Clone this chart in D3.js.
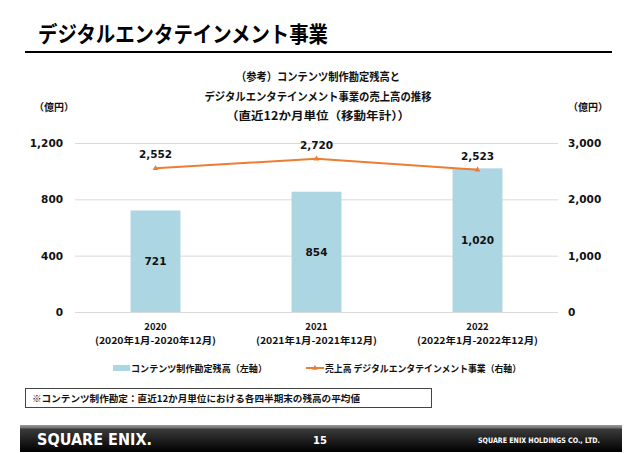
<!DOCTYPE html>
<html><head><meta charset="utf-8">
<script src="https://cdn.jsdelivr.net/npm/d3@7"></script>
<style>
html,body{margin:0;padding:0;background:#fff;}
svg{display:block;}
.jp{font-family:"Noto Sans CJK JP","Noto Sans",sans-serif;font-weight:700;}
.num{font-family:"DejaVu Sans",Verdana,sans-serif;font-weight:700;}
</style>
</head><body>
<script>
const categories = ["2020", "2021", "2022"];
const periodLabels = ["(2020年1月-2020年12月)", "(2021年1月-2021年12月)", "(2022年1月-2022年12月)"];
const contentBalance = [721, 854, 1020];     // left axis, bars
const salesDE = [2552, 2720, 2523];          // right axis, line
const leftTicks = [0, 400, 800, 1200];
const rightTicks = [0, 1000, 2000, 3000];
const pageTitle = "デジタルエンタテインメント事業";
const chartTitle = ["（参考）コンテンツ制作勘定残高と", "デジタルエンタテインメント事業の売上高の推移", "（直近12か月単位（移動年計））"];
const unitLabel = "（億円）";
const legendLabels = ["コンテンツ制作勘定残高（左軸）", "売上高  デジタルエンタテインメント事業（右軸）"];
const footnote = "※コンテンツ制作勘定：直近12か月単位における各四半期末の残高の平均値";

const W = 640, H = 453;
const svg = d3.select("body").append("svg").attr("width", W).attr("height", H);

const defs = svg.append("defs");
const g1 = defs.append("linearGradient").attr("id", "foot").attr("x1", 0).attr("y1", 0).attr("x2", 0).attr("y2", 1);
g1.append("stop").attr("offset", "0").attr("stop-color", "#9a9a9a");
g1.append("stop").attr("offset", "0.09").attr("stop-color", "#7a7a7a");
g1.append("stop").attr("offset", "0.16").attr("stop-color", "#3a3a3a");
g1.append("stop").attr("offset", "1").attr("stop-color", "#000");

// Page title
svg.append("text").attr("class", "jp").attr("x", 38).attr("y", 42)
  .attr("font-size", 22).attr("textLength", 290).attr("lengthAdjust", "spacingAndGlyphs")
  .attr("fill", "#000").text(pageTitle);
svg.append("line").attr("x1", 25).attr("x2", 612).attr("y1", 52).attr("y2", 52)
  .attr("stroke", "#000").attr("stroke-width", 2);

// Chart title
const titleW = [164, 227, 184];
chartTitle.forEach((t, i) => {
  svg.append("text").attr("class", "jp").attr("x", 318).attr("y", 81 + i * 19.5)
    .attr("text-anchor", "middle").attr("font-size", 11.5)
    .attr("textLength", titleW[i]).attr("lengthAdjust", "spacingAndGlyphs")
    .attr("fill", "#111").text(t);
});

// units
svg.append("text").attr("class", "jp").attr("x", 54).attr("y", 111).attr("text-anchor", "middle")
  .attr("font-size", 10).attr("fill", "#111").text(unitLabel);
svg.append("text").attr("class", "jp").attr("x", 588).attr("y", 111).attr("text-anchor", "middle")
  .attr("font-size", 10).attr("fill", "#111").text(unitLabel);

// scales
const x = d3.scaleBand().domain(categories).range([75, 558]).paddingInner(0.69).paddingOuter(0.345);
const yL = d3.scaleLinear().domain([0, 1200]).range([312, 143]);
const yR = d3.scaleLinear().domain([0, 3000]).range([312, 143]);

// gridlines
const grid = svg.append("g").attr("transform", "translate(75,0)")
  .call(d3.axisLeft(yL).tickValues(leftTicks).tickSize(-(558 - 75)).tickFormat(""));
grid.select(".domain").remove();
grid.selectAll("line").attr("stroke", "#d9d9d9").attr("stroke-width", 1);

// left axis
const axL = svg.append("g").attr("transform", "translate(75,0)")
  .call(d3.axisLeft(yL).tickValues(leftTicks).tickSize(0).tickPadding(12).tickFormat(d3.format(",")));
axL.select(".domain").remove();
axL.selectAll("text").attr("class", "num").attr("font-size", 10.5).attr("fill", "#111");

// right axis
const axR = svg.append("g").attr("transform", "translate(558,0)")
  .call(d3.axisRight(yR).tickValues(rightTicks).tickSize(0).tickPadding(10).tickFormat(d3.format(",")));
axR.select(".domain").remove();
axR.selectAll("text").attr("class", "num").attr("font-size", 10.5).attr("fill", "#111");

// bars
svg.append("g").selectAll("rect").data(categories).join("rect")
  .attr("x", d => x(d)).attr("width", x.bandwidth())
  .attr("y", (d, i) => yL(contentBalance[i]))
  .attr("height", (d, i) => yL(0) - yL(contentBalance[i]))
  .attr("fill", "#add6e3");
svg.append("g").selectAll("text").data(categories).join("text")
  .attr("class", "num").attr("font-size", 10.5).attr("fill", "#111").attr("text-anchor", "middle")
  .attr("x", d => x(d) + x.bandwidth() / 2)
  .attr("y", (d, i) => (yL(contentBalance[i]) + yL(0)) / 2 + 4)
  .text((d, i) => d3.format(",")(contentBalance[i]));

// line
const cx = d => x(d) + x.bandwidth() / 2;
const line = d3.line().x((d, i) => cx(categories[i])).y(d => yR(d));
svg.append("path").datum(salesDE).attr("d", line).attr("fill", "none")
  .attr("stroke", "#ed7d31").attr("stroke-width", 2);
svg.append("g").selectAll("path").data(salesDE).join("path")
  .attr("d", d3.symbol(d3.symbolTriangle).size(14))
  .attr("transform", (d, i) => `translate(${cx(categories[i])},${yR(d)})`)
  .attr("fill", "#ed7d31");
svg.append("g").selectAll("text").data(salesDE).join("text")
  .attr("class", "num").attr("font-size", 10.5).attr("fill", "#111").attr("text-anchor", "middle")
  .attr("x", (d, i) => cx(categories[i])).attr("y", d => yR(d) - 10)
  .text(d => d3.format(",")(d));

// x labels
svg.append("g").selectAll("text").data(categories).join("text")
  .attr("class", "jp").attr("font-size", 9.5).attr("fill", "#111").attr("text-anchor", "middle")
  .attr("x", d => cx(d)).attr("y", 330).text(d => d);
svg.append("g").selectAll("text").data(categories).join("text")
  .attr("class", "jp").attr("font-size", 9.5).attr("fill", "#111").attr("text-anchor", "middle")
  .attr("x", d => cx(d)).attr("y", 344).attr("textLength", 121).attr("lengthAdjust", "spacingAndGlyphs")
  .text((d, i) => periodLabels[i]);

// legend
svg.append("rect").attr("x", 113).attr("y", 365).attr("width", 17).attr("height", 6).attr("fill", "#add6e3");
svg.append("text").attr("class", "jp").attr("x", 131).attr("y", 372).attr("font-size", 9.5)
  .attr("textLength", 136).attr("lengthAdjust", "spacingAndGlyphs").attr("fill", "#111").text(legendLabels[0]);
svg.append("line").attr("x1", 306).attr("x2", 324).attr("y1", 368).attr("y2", 368)
  .attr("stroke", "#ed7d31").attr("stroke-width", 2);
svg.append("path").attr("d", d3.symbol(d3.symbolTriangle).size(14)).attr("transform", "translate(315,368)").attr("fill", "#ed7d31");
svg.append("text").attr("class", "jp").attr("x", 325).attr("y", 372).attr("font-size", 9.5)
  .attr("textLength", 196).attr("lengthAdjust", "spacingAndGlyphs").attr("fill", "#111").text(legendLabels[1]);

// footnote box
svg.append("rect").attr("x", 25.5).attr("y", 388.5).attr("width", 406).attr("height", 19)
  .attr("fill", "#fff").attr("stroke", "#444").attr("stroke-width", 1);
svg.append("text").attr("class", "jp").attr("x", 32).attr("y", 402).attr("font-size", 9.5)
  .attr("textLength", 328).attr("lengthAdjust", "spacingAndGlyphs").attr("fill", "#111").text(footnote);

// footer
svg.append("rect").attr("x", 20).attr("y", 425).attr("width", 602).attr("height", 27).attr("fill", "url(#foot)");
svg.append("text").attr("x", 37).attr("y", 445).attr("font-family", "'DejaVu Sans',sans-serif").attr("font-weight", 700)
  .attr("font-size", 15).attr("textLength", 115).attr("lengthAdjust", "spacingAndGlyphs").attr("fill", "#fff").text("SQUARE ENIX.");
svg.append("text").attr("x", 320).attr("y", 444).attr("text-anchor", "middle").attr("font-family", "'DejaVu Sans',sans-serif")
  .attr("font-weight", 700).attr("font-size", 10).attr("fill", "#fff").text("15");
svg.append("text").attr("x", 600).attr("y", 443).attr("text-anchor", "end").attr("font-family", "'DejaVu Sans',sans-serif")
  .attr("font-weight", 700).attr("font-size", 7.5).attr("textLength", 122).attr("lengthAdjust", "spacingAndGlyphs")
  .attr("fill", "#fff").text("SQUARE ENIX HOLDINGS CO., LTD.");
</script>
</body></html>
